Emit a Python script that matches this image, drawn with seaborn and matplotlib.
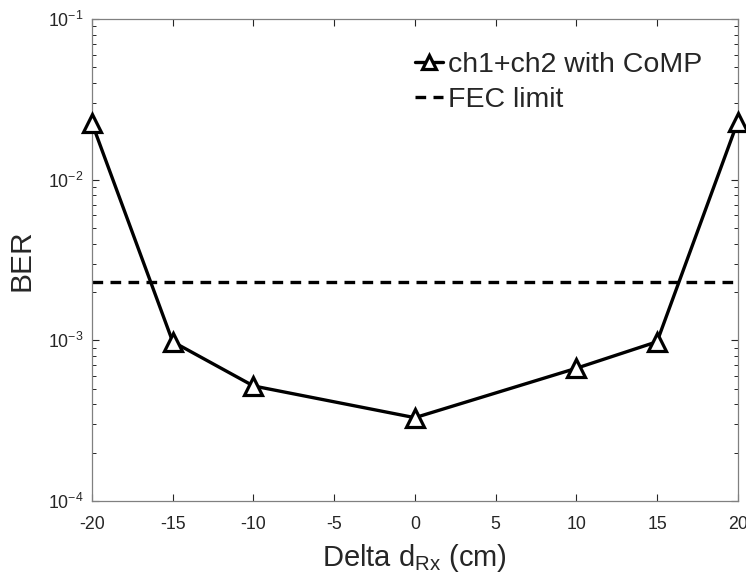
import matplotlib
matplotlib.use("Agg")
import matplotlib.pyplot as plt
import numpy as np
import pandas as pd
import seaborn as sns
from matplotlib.ticker import LogLocator, FixedLocator, NullFormatter

# Receiver offset (cm) and measured BER with CoMP
delta_d = [-20, -15, -10, 0, 10, 15, 20]
ber_comp = [2.25e-2, 9.8e-4, 5.2e-4, 3.3e-4, 6.7e-4, 9.8e-4, 2.3e-2]
fec_limit = 2.3e-3
x_ticks = [-20, -15, -10, -5, 0, 5, 10, 15, 20]
series_label = "ch1+ch2 with CoMP"
fec_label = "FEC limit"

sns.set_theme(style="ticks")
plt.rcParams.update({
    "font.family": ["Liberation Sans", "DejaVu Sans"],
    "mathtext.fontset": "custom",
    "mathtext.rm": "Liberation Sans",
    "mathtext.it": "Liberation Sans:italic",
    "axes.unicode_minus": False,
    "text.color": "#262626",
    "axes.labelcolor": "#262626",
    "xtick.color": "#262626",
    "ytick.color": "#262626",
})

fig = plt.figure(figsize=(7.46, 5.85), dpi=100)
ax = fig.add_axes([0.1233, 0.1436, 0.8657, 0.824])

df = pd.DataFrame({"delta": delta_d, "ber": ber_comp})
sns.lineplot(data=df, x="delta", y="ber", ax=ax, color="black", linewidth=2.4,
             marker="^", markersize=12.5, markerfacecolor="white",
             markeredgecolor="black", markeredgewidth=2.3,
             label=series_label, clip_on=False, zorder=5)
ax.axhline(fec_limit, color="black", linestyle=(0, (3.2, 2.2)), linewidth=2.4,
           label=fec_label)

ax.set_yscale("log")
ax.set_xlim(-20, 20)
ax.set_ylim(1e-4, 1e-1)
ax.xaxis.set_major_locator(FixedLocator(x_ticks))
ax.set_xticklabels([str(t) for t in x_ticks])
ax.yaxis.set_major_locator(LogLocator(base=10, numticks=10))
ax.yaxis.set_minor_locator(LogLocator(base=10, subs=np.arange(2, 10), numticks=20))
ax.yaxis.set_minor_formatter(NullFormatter())

for side in ["left", "right", "top", "bottom"]:
    ax.spines[side].set_visible(True)
    ax.spines[side].set_color("#808080")
    ax.spines[side].set_linewidth(0.9)
ax.tick_params(which="both", direction="in", top=True, right=True,
               color="#262626", labelsize=12.8)
ax.tick_params(which="major", length=5, width=0.8)
ax.tick_params(which="minor", length=3, width=0.7)
ax.tick_params(axis="x", which="major", pad=11)
ax.tick_params(axis="y", which="major", pad=6)

ax.set_xlabel(r"Delta d$_{\mathregular{Rx}}$ (cm)", fontsize=21, labelpad=6)
ax.set_ylabel("BER", fontsize=21.5, labelpad=9)

ax.legend(loc="upper left", bbox_to_anchor=(415 / 746, 1 - 52 / 585),
          bbox_transform=fig.transFigure, frameon=False, fontsize=20.5,
          handlelength=1.0, handletextpad=0.15, borderpad=0, borderaxespad=0,
          labelspacing=0.3, markerscale=0.8)

fig.savefig("out.png", dpi=100)
